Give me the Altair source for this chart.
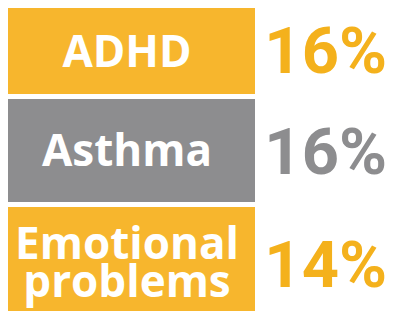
import altair as alt
import pandas as pd

labels = ["ADHD", "Asthma", "Emotional problems"]
values = [16, 16, 14]
bar_colors = ["#F7B62D", "#8D8D8F", "#F7B62D"]
value_colors = ["#F4B11C", "#8D8D8F", "#F4B11C"]

df = pd.DataFrame({"label": labels, "value": values, "bar": bar_colors, "vc": value_colors})

# layout (per panel): heights and vertical text nudges
row_heights = [86, 103, 104]
label_dy = [3, 2.5, -12.7]
pct_dy = [1.7, 3.8, 8.3]
LINE_H = 37.4
W = 379


def panel(i, h):
    base = (
        alt.Chart(df)
        .transform_filter(alt.datum.label == labels[i])
        .transform_calculate(pct="datum.value + '%'")
    )
    y = alt.Y("label:N", axis=None, scale=alt.Scale(paddingInner=0, paddingOuter=0))
    bar = base.mark_bar().encode(
        x=alt.value(0), x2=alt.value(247), y=y,
        color=alt.Color("bar:N", scale=None, legend=None),
    )
    name = base.mark_text(
        font="Open Sans", fontWeight="bold", fontSize=44, color="white",
        lineBreak=" ", lineHeight=LINE_H, baseline="middle", align="center",
        dy=label_dy[i],
    ).encode(x=alt.value(119), y=y, text="label:N")
    pct = base.mark_text(
        font="Roboto", fontWeight="bold", fontSize=65, align="right",
        baseline="middle", dy=pct_dy[i],
    ).encode(
        x=alt.value(W), y=y, text="pct:N",
        color=alt.Color("vc:N", scale=None, legend=None),
    )
    return alt.layer(bar, name, pct).properties(width=W, height=h)


chart = (
    alt.vconcat(*[panel(i, h) for i, h in enumerate(row_heights)], spacing=5)
    .properties(padding=0)
    .configure_view(stroke=None)
)

chart.save("out.html", embed_options={"renderer": "svg", "actions": False})
